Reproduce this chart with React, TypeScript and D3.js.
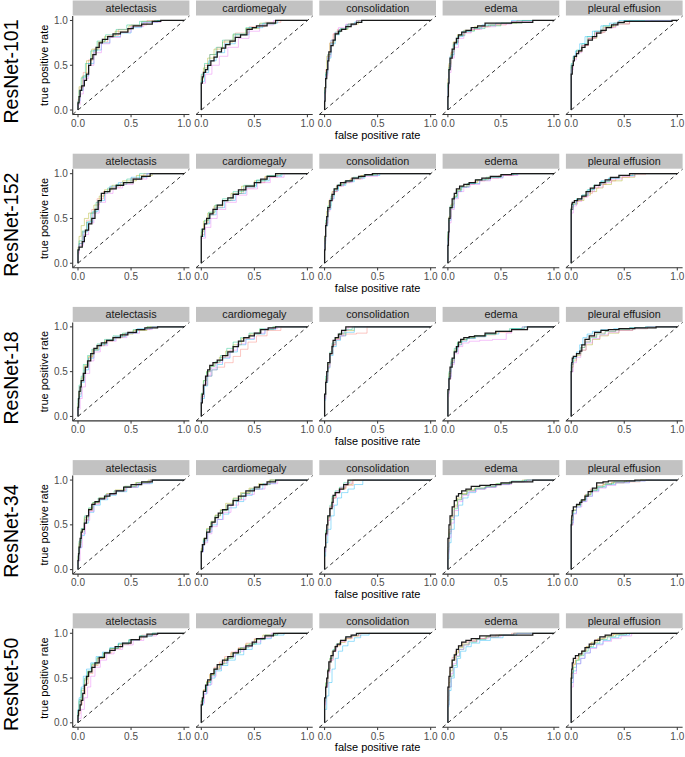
import React from "react";
import * as d3 from "d3";

const MODELS = ["ResNet-101", "ResNet-152", "ResNet-18", "ResNet-34", "ResNet-50"];
const DISEASES = ["atelectasis", "cardiomegaly", "consolidation", "edema", "pleural effusion"];
const TICKS = [0, 0.5, 1];
const TICK_LABELS = ["0.0", "0.5", "1.0"];
const FOLD_COLORS = ["#F8766D", "#A3A500", "#00BF7D", "#00B0F6", "#E76BF3"];
const X_TITLE = "false positive rate";
const Y_TITLE = "true positive rate";

// Mean (black) ROC curves, flat [fpr, tpr, ...] per disease
const MAIN_101: number[][] = [
  [0,0, .01,.08, .02,.15, .035,.22, .06,.27, .08,.33, .1,.4, .12,.5, .14,.57, .17,.62, .2,.7, .23,.75, .28,.79, .33,.82, .4,.85, .47,.87, .52,.91, .6,.94, .7,.96, .78,.99, .84,1, 1,1],
  [0,0, 0,.26, .01,.3, .02,.37, .04,.42, .06,.45, .09,.5, .12,.55, .15,.59, .19,.65, .23,.69, .27,.73, .32,.77, .37,.81, .43,.84, .48,.9, .52,.92, .62,.94, .7,.97, .8,1, 1,1],
  [0,0, .005,.1, .01,.25, .02,.35, .03,.45, .04,.55, .06,.65, .08,.72, .1,.78, .13,.85, .16,.88, .2,.9, .25,.93, .3,.96, .35,.98, .4,1, 1,1],
  [0,0, .005,.15, .01,.3, .02,.45, .04,.58, .06,.68, .08,.75, .1,.8, .13,.84, .17,.87, .22,.89, .28,.92, .35,.94, .4,.97, .6,.97, .8,.98, .84,1, 1,1],
  [0,0, 0,.26, .01,.4, .02,.5, .03,.55, .05,.6, .07,.63, .1,.66, .13,.7, .16,.73, .2,.78, .24,.82, .28,.86, .33,.89, .38,.92, .44,.95, .5,.98, .55,.99, .95,.99, .98,1, 1,1],
];
const MAIN_152: number[][] = [
  [0,0, 0,.1, .01,.15, .04,.18, .06,.24, .07,.3, .1,.37, .13,.44, .16,.5, .19,.6, .22,.7, .25,.78, .3,.8, .36,.83, .43,.87, .52,.9, .6,.94, .68,.97, .74,1, 1,1],
  [0,0, 0,.2, .01,.3, .03,.38, .05,.44, .08,.5, .11,.55, .15,.6, .2,.65, .25,.7, .3,.73, .35,.77, .42,.82, .5,.86, .56,.9, .62,.94, .7,.97, .8,1, 1,1],
  [0,0, .005,.15, .01,.3, .02,.42, .03,.52, .05,.62, .07,.7, .09,.77, .12,.83, .15,.87, .2,.9, .26,.92, .32,.95, .38,.97, .45,.99, .6,1, 1,1],
  [0,0, .005,.2, .01,.35, .02,.5, .04,.62, .06,.72, .08,.78, .11,.83, .15,.86, .2,.88, .26,.9, .32,.93, .4,.95, .5,.97, .6,.99, .72,1, 1,1],
  [0,0, 0,.45, .005,.6, .01,.66, .03,.68, .06,.7, .1,.72, .14,.75, .18,.8, .22,.84, .27,.87, .32,.9, .37,.93, .45,.96, .55,.98, .7,1, 1,1],
];
const MAIN_18: number[][] = [
  [0,0, .005,.1, .01,.2, .02,.28, .03,.33, .05,.4, .07,.48, .09,.55, .12,.62, .15,.7, .18,.76, .22,.79, .27,.82, .33,.85, .4,.88, .47,.91, .55,.94, .63,.97, .75,.99, .82,1, 1,1],
  [0,0, 0,.05, .01,.15, .02,.25, .04,.35, .06,.45, .08,.52, .11,.57, .15,.6, .2,.63, .25,.68, .3,.72, .35,.78, .4,.84, .45,.88, .5,.9, .56,.93, .63,.97, .7,.99, .78,1, 1,1],
  [0,0, 0,.1, .01,.25, .02,.38, .03,.5, .05,.6, .07,.7, .08,.78, .1,.85, .13,.88, .16,.92, .2,.96, .24,1, 1,1],
  [0,0, 0,.1, .01,.3, .02,.42, .04,.55, .06,.65, .08,.72, .1,.78, .12,.83, .15,.86, .2,.88, .25,.89, .35,.9, .45,.93, .6,.95, .75,.97, .8,1, 1,1],
  [0,0, 0,.3, .005,.5, .01,.6, .02,.65, .05,.67, .08,.7, .1,.73, .13,.8, .17,.86, .22,.9, .28,.94, .35,.96, .45,.97, .6,.98, .8,.99, .9,1, 1,1],
];
const MAIN_34: number[][] = [
  [0,0, .005,.1, .01,.18, .02,.25, .03,.35, .04,.42, .06,.45, .08,.52, .1,.6, .13,.67, .16,.73, .2,.76, .25,.79, .3,.82, .36,.85, .43,.88, .5,.92, .6,.95, .7,.98, .8,1, 1,1],
  [0,0, 0,.1, .01,.2, .03,.28, .05,.35, .08,.42, .1,.48, .13,.53, .16,.58, .2,.63, .25,.67, .3,.72, .35,.77, .42,.82, .5,.88, .55,.92, .62,.95, .7,.98, .8,1, 1,1],
  [0,0, 0,.1, .01,.25, .02,.4, .03,.5, .05,.6, .07,.68, .08,.75, .1,.83, .14,.86, .18,.9, .22,.95, .26,1, 1,1],
  [0,0, 0,.15, .01,.35, .02,.5, .04,.6, .06,.7, .08,.77, .1,.82, .13,.85, .17,.88, .22,.9, .3,.93, .4,.94, .5,.95, .6,.97, .8,.98, .85,1, 1,1],
  [0,0, 0,.3, .005,.5, .01,.6, .02,.66, .05,.7, .08,.73, .1,.75, .13,.78, .16,.82, .2,.87, .24,.91, .3,.97, .35,.98, .6,.99, .9,1, 1,1],
];
const MAIN_50: number[][] = [
  [0,0, .005,.08, .02,.14, .03,.2, .045,.25, .06,.33, .08,.42, .1,.52, .13,.57, .16,.62, .2,.67, .25,.73, .3,.78, .35,.81, .42,.85, .5,.89, .58,.93, .65,.96, .75,.99, .82,1, 1,1],
  [0,0, 0,.1, .01,.2, .02,.28, .04,.35, .06,.42, .09,.48, .12,.55, .15,.6, .2,.65, .25,.7, .3,.74, .35,.78, .42,.82, .48,.86, .52,.9, .6,.94, .68,.97, .75,1, 1,1],
  [0,0, 0,.1, .01,.28, .02,.4, .03,.5, .04,.58, .06,.68, .08,.75, .1,.8, .12,.85, .15,.88, .2,.92, .25,.96, .3,.98, .35,1, 1,1],
  [0,0, 0,.2, .01,.4, .02,.52, .04,.62, .06,.7, .08,.76, .1,.82, .13,.86, .17,.9, .22,.92, .3,.94, .4,.97, .5,.98, .8,.98, .85,1, 1,1],
  [0,0, 0,.3, .005,.5, .01,.6, .02,.67, .04,.72, .07,.75, .1,.77, .13,.8, .17,.84, .22,.88, .27,.92, .32,.96, .38,.98, .5,1, 1,1],
];

// Per-fold (coloured) ROC curves: [disease][fold] flat [fpr, tpr, ...]
const FOLDS_101: number[][][] = [
  [
    [0,0, .02,.12, .05,.25, .1,.42, .15,.56, .2,.68, .28,.76, .38,.83, .5,.9, .65,.95, .8,1, 1,1],
    [0,0, .01,.1, .04,.26, .08,.38, .13,.55, .19,.68, .25,.76, .35,.82, .48,.88, .6,.94, .75,.99, .85,1, 1,1],
    [0,0, .01,.08, .03,.22, .07,.36, .12,.52, .18,.66, .26,.77, .36,.84, .46,.9, .58,.95, .72,.99, .8,1, 1,1],
    [0,0, .02,.1, .05,.22, .1,.38, .15,.52, .22,.67, .3,.75, .4,.82, .5,.86, .6,.92, .75,.98, .88,1, 1,1],
    [0,0, .02,.06, .05,.18, .1,.35, .15,.5, .22,.64, .3,.74, .4,.81, .5,.87, .62,.93, .78,.98, .9,1, 1,1],
  ],
  [
    [0,0, 0,.2, .03,.38, .08,.5, .15,.62, .22,.7, .32,.78, .45,.86, .6,.93, .75,.98, .85,1, 1,1],
    [0,0, 0,.22, .02,.35, .06,.47, .12,.58, .2,.68, .3,.76, .42,.84, .55,.91, .7,.97, .82,1, 1,1],
    [0,0, 0,.25, .03,.4, .08,.52, .14,.62, .2,.7, .3,.78, .42,.85, .55,.92, .7,.96, .8,1, 1,1],
    [0,0, 0,.18, .03,.32, .07,.42, .14,.55, .22,.64, .32,.74, .45,.84, .58,.92, .72,.97, .85,1, 1,1],
    [0,0, 0,.2, .04,.3, .1,.4, .17,.5, .25,.6, .35,.7, .45,.8, .55,.88, .68,.95, .8,1, 1,1],
  ],
  [
    [0,0, .01,.2, .03,.45, .05,.62, .08,.75, .12,.85, .2,.9, .3,.95, .42,1, 1,1],
    [0,0, .01,.25, .02,.4, .05,.6, .09,.75, .14,.85, .22,.9, .32,.96, .4,1, 1,1],
    [0,0, .01,.2, .03,.42, .06,.62, .1,.78, .15,.87, .22,.91, .3,.96, .38,1, 1,1],
    [0,0, .01,.22, .03,.4, .06,.58, .1,.74, .14,.84, .2,.9, .28,.95, .35,.98, .45,1, 1,1],
    [0,0, .01,.18, .03,.38, .06,.6, .09,.78, .13,.86, .2,.92, .3,.96, .38,1, 1,1],
  ],
  [
    [0,0, .01,.3, .03,.5, .06,.65, .1,.76, .15,.83, .22,.87, .3,.9, .4,.93, .55,.95, .7,.97, .85,1, 1,1],
    [0,0, .01,.35, .03,.52, .05,.64, .09,.76, .15,.84, .25,.89, .38,.93, .5,.95, .65,.97, .8,1, 1,1],
    [0,0, .01,.28, .03,.48, .06,.62, .1,.75, .16,.83, .25,.88, .35,.91, .5,.94, .7,.97, .82,1, 1,1],
    [0,0, .01,.3, .02,.45, .05,.6, .09,.73, .14,.82, .22,.88, .32,.92, .45,.95, .6,.97, .78,1, 1,1],
    [0,0, .01,.25, .03,.42, .06,.58, .1,.7, .15,.8, .22,.86, .32,.9, .45,.93, .6,.96, .8,.99, .9,1, 1,1],
  ],
  [
    [0,0, 0,.3, .02,.5, .05,.6, .1,.66, .16,.72, .22,.8, .3,.86, .4,.92, .55,.97, .7,1, 1,1],
    [0,0, 0,.25, .02,.48, .05,.58, .1,.65, .16,.72, .24,.8, .32,.87, .42,.93, .55,.96, .75,.99, .85,1, 1,1],
    [0,0, 0,.3, .02,.52, .05,.6, .1,.67, .15,.74, .22,.82, .3,.88, .4,.94, .5,.97, .65,1, 1,1],
    [0,0, 0,.28, .02,.5, .04,.6, .08,.66, .13,.74, .2,.82, .28,.88, .36,.94, .45,.97, .6,1, 1,1],
    [0,0, 0,.22, .02,.45, .05,.56, .1,.64, .16,.72, .23,.8, .32,.87, .42,.92, .55,.96, .7,.99, .8,1, 1,1],
  ],
];
const FOLDS_152: number[][][] = [
  [
    [0,0, .01,.12, .04,.22, .08,.35, .13,.48, .18,.6, .24,.72, .3,.8, .4,.85, .5,.9, .62,.95, .75,1, 1,1],
    [0,0, .01,.18, .03,.3, .06,.42, .1,.5, .15,.56, .2,.65, .25,.75, .32,.82, .42,.87, .55,.92, .7,.98, .8,1, 1,1],
    [0,0, .01,.15, .04,.25, .08,.36, .12,.46, .17,.56, .22,.68, .28,.78, .36,.84, .46,.88, .58,.94, .72,1, 1,1],
    [0,0, .01,.14, .05,.22, .09,.35, .14,.46, .19,.58, .25,.7, .3,.8, .38,.86, .5,.9, .65,.96, .76,1, 1,1],
    [0,0, .01,.1, .05,.2, .1,.32, .15,.45, .2,.56, .26,.68, .33,.78, .42,.84, .52,.88, .65,.94, .8,1, 1,1],
  ],
  [
    [0,0, 0,.18, .03,.32, .07,.45, .12,.54, .2,.62, .3,.7, .4,.78, .5,.84, .6,.9, .72,.96, .85,1, 1,1],
    [0,0, 0,.2, .02,.35, .06,.47, .12,.56, .2,.64, .28,.7, .38,.78, .5,.86, .6,.92, .7,.97, .82,1, 1,1],
    [0,0, 0,.22, .03,.38, .07,.48, .13,.57, .2,.65, .3,.72, .4,.8, .52,.87, .62,.93, .75,.98, .82,1, 1,1],
    [0,0, 0,.15, .03,.3, .08,.44, .14,.54, .22,.62, .32,.7, .42,.78, .52,.85, .64,.92, .76,.97, .88,1, 1,1],
    [0,0, 0,.15, .04,.28, .09,.4, .15,.5, .23,.6, .33,.68, .43,.76, .53,.83, .65,.9, .78,.96, .9,1, 1,1],
  ],
  [
    [0,0, .01,.25, .03,.45, .05,.6, .08,.72, .12,.8, .18,.87, .25,.91, .35,.95, .5,.98, .65,1, 1,1],
    [0,0, .01,.3, .02,.45, .04,.58, .07,.7, .11,.8, .16,.86, .24,.9, .34,.94, .46,.98, .6,1, 1,1],
    [0,0, .01,.28, .03,.48, .06,.64, .09,.75, .13,.83, .19,.88, .27,.92, .37,.96, .5,.99, .62,1, 1,1],
    [0,0, .01,.22, .03,.42, .06,.6, .09,.72, .13,.81, .2,.87, .28,.91, .38,.95, .52,.98, .68,1, 1,1],
    [0,0, .01,.25, .03,.44, .05,.58, .08,.7, .12,.8, .18,.86, .26,.9, .36,.94, .5,.97, .7,1, 1,1],
  ],
  [
    [0,0, .01,.3, .03,.5, .05,.62, .08,.74, .12,.8, .18,.85, .25,.88, .35,.92, .48,.95, .62,.98, .75,1, 1,1],
    [0,0, .01,.32, .03,.52, .06,.66, .09,.75, .13,.82, .2,.86, .28,.9, .38,.93, .5,.96, .65,.99, .75,1, 1,1],
    [0,0, .01,.35, .02,.5, .05,.64, .08,.74, .12,.81, .18,.85, .26,.89, .36,.93, .5,.96, .62,.99, .7,1, 1,1],
    [0,0, .01,.28, .03,.48, .06,.62, .09,.73, .13,.8, .2,.85, .3,.89, .4,.93, .52,.96, .66,.99, .78,1, 1,1],
    [0,0, .01,.25, .03,.45, .06,.6, .1,.72, .15,.8, .21,.85, .3,.88, .4,.92, .52,.95, .66,.98, .8,1, 1,1],
  ],
  [
    [0,0, 0,.4, .02,.62, .05,.67, .1,.7, .15,.74, .2,.78, .26,.84, .33,.88, .42,.92, .55,.96, .7,.99, .8,1, 1,1],
    [0,0, 0,.42, .02,.6, .06,.66, .12,.7, .18,.76, .24,.8, .3,.84, .38,.88, .48,.92, .6,.96, .75,1, 1,1],
    [0,0, 0,.45, .02,.63, .05,.68, .1,.72, .15,.76, .21,.82, .28,.87, .36,.91, .46,.95, .6,.98, .72,1, 1,1],
    [0,0, 0,.4, .02,.6, .05,.66, .1,.71, .16,.76, .22,.82, .28,.87, .35,.92, .45,.95, .58,.98, .7,1, 1,1],
    [0,0, 0,.35, .02,.56, .05,.64, .1,.69, .16,.74, .22,.8, .3,.85, .38,.9, .48,.94, .6,.97, .75,1, 1,1],
  ],
];
const FOLDS_18: number[][][] = [
  [
    [0,0, .01,.12, .03,.25, .06,.4, .1,.55, .14,.66, .19,.75, .26,.8, .34,.85, .44,.89, .55,.93, .68,.97, .8,1, 1,1],
    [0,0, .01,.15, .03,.28, .06,.43, .1,.57, .14,.67, .19,.74, .25,.79, .33,.84, .42,.88, .52,.92, .65,.96, .78,1, 1,1],
    [0,0, .01,.2, .03,.35, .05,.45, .09,.58, .13,.68, .18,.75, .25,.81, .33,.86, .42,.9, .52,.93, .65,.97, .76,1, 1,1],
    [0,0, .01,.1, .03,.22, .06,.38, .1,.52, .15,.65, .2,.74, .27,.8, .35,.85, .45,.89, .56,.93, .7,.98, .82,1, 1,1],
    [0,0, .02,.08, .04,.2, .07,.33, .11,.48, .15,.62, .21,.72, .28,.79, .36,.84, .46,.88, .58,.93, .7,.97, .84,1, 1,1],
  ],
  [
    [0,0, 0,.05, .03,.22, .06,.35, .1,.45, .15,.52, .22,.55, .3,.6, .37,.67, .44,.75, .52,.83, .62,.9, .75,.96, .88,1, 1,1],
    [0,0, 0,.05, .02,.25, .05,.4, .08,.5, .12,.56, .17,.6, .23,.66, .3,.73, .38,.8, .46,.87, .55,.92, .68,.97, .8,1, 1,1],
    [0,0, 0,.06, .02,.26, .05,.4, .09,.5, .13,.56, .18,.61, .24,.68, .3,.76, .37,.83, .45,.88, .55,.93, .67,.98, .76,1, 1,1],
    [0,0, 0,.04, .03,.2, .06,.34, .1,.45, .15,.52, .2,.58, .27,.65, .34,.72, .42,.8, .5,.86, .6,.92, .7,.97, .82,1, 1,1],
    [0,0, 0,.05, .02,.22, .05,.36, .09,.46, .14,.54, .2,.6, .27,.66, .34,.74, .42,.81, .5,.87, .6,.93, .72,.98, .82,1, 1,1],
  ],
  [
    [0,0, .01,.2, .03,.4, .05,.55, .08,.7, .11,.8, .15,.86, .2,.9, .3,.92, .4,.93, .45,1, 1,1],
    [0,0, .01,.22, .03,.42, .05,.58, .07,.7, .1,.8, .14,.87, .2,.92, .28,.96, .34,1, 1,1],
    [0,0, .01,.25, .03,.45, .05,.6, .07,.72, .1,.82, .14,.88, .19,.93, .26,.97, .32,1, 1,1],
    [0,0, .01,.18, .03,.38, .05,.54, .08,.68, .11,.78, .15,.85, .2,.9, .28,.94, .36,1, 1,1],
    [0,0, .01,.2, .03,.4, .05,.56, .07,.7, .1,.8, .14,.86, .18,.9, .22,.96, .3,1, 1,1],
  ],
  [
    [0,0, .01,.25, .03,.45, .06,.6, .09,.72, .13,.8, .18,.85, .25,.87, .35,.89, .45,.91, .6,.94, .75,.97, .85,1, 1,1],
    [0,0, .01,.28, .03,.48, .06,.62, .09,.74, .13,.82, .18,.86, .26,.88, .36,.9, .46,.92, .6,.95, .72,.98, .82,1, 1,1],
    [0,0, .01,.3, .03,.5, .06,.64, .09,.76, .13,.83, .18,.86, .25,.88, .35,.9, .45,.92, .58,.95, .7,.98, .8,1, 1,1],
    [0,0, .01,.26, .03,.44, .06,.6, .09,.72, .13,.8, .18,.84, .26,.87, .36,.89, .48,.92, .6,.95, .72,.98, .82,1, 1,1],
    [0,0, .01,.22, .03,.42, .06,.58, .1,.7, .14,.78, .2,.82, .3,.84, .42,.85, .55,.86, .6,.93, .7,.97, .82,1, 1,1],
  ],
  [
    [0,0, 0,.35, .02,.58, .05,.64, .09,.7, .13,.77, .18,.84, .24,.89, .32,.93, .42,.95, .55,.97, .7,.99, .85,1, 1,1],
    [0,0, 0,.3, .02,.55, .05,.62, .09,.68, .14,.74, .2,.8, .27,.86, .35,.9, .45,.93, .58,.96, .72,.98, .85,1, 1,1],
    [0,0, 0,.35, .02,.58, .05,.65, .09,.7, .13,.77, .18,.83, .24,.88, .32,.92, .42,.95, .55,.97, .7,.99, .82,1, 1,1],
    [0,0, 0,.4, .02,.6, .05,.66, .08,.72, .11,.8, .15,.88, .2,.92, .28,.95, .4,.97, .55,.98, .7,.99, .8,1, 1,1],
    [0,0, 0,.3, .02,.5, .05,.6, .09,.66, .14,.74, .2,.82, .27,.87, .35,.91, .45,.94, .58,.96, .72,.98, .85,1, 1,1],
  ],
];
const FOLDS_34: number[][][] = [
  [
    [0,0, .01,.12, .03,.28, .06,.42, .1,.56, .14,.66, .2,.74, .27,.8, .35,.84, .45,.88, .55,.92, .68,.97, .8,1, 1,1],
    [0,0, .01,.15, .03,.3, .06,.44, .1,.58, .14,.68, .2,.75, .27,.8, .35,.85, .44,.89, .54,.93, .66,.97, .78,1, 1,1],
    [0,0, .01,.16, .03,.32, .06,.46, .1,.6, .14,.69, .19,.75, .26,.8, .34,.84, .44,.88, .55,.93, .68,.97, .8,1, 1,1],
    [0,0, .01,.1, .03,.24, .06,.38, .1,.52, .15,.64, .21,.72, .28,.78, .36,.83, .46,.87, .57,.92, .7,.96, .82,1, 1,1],
    [0,0, .02,.1, .04,.25, .07,.4, .11,.55, .15,.65, .2,.73, .27,.79, .35,.84, .45,.88, .56,.92, .68,.96, .82,1, 1,1],
  ],
  [
    [0,0, 0,.1, .02,.22, .05,.33, .09,.44, .13,.52, .18,.6, .24,.66, .3,.72, .38,.78, .46,.85, .55,.9, .65,.95, .78,1, 1,1],
    [0,0, 0,.12, .02,.24, .05,.35, .09,.46, .13,.54, .18,.61, .23,.67, .3,.74, .37,.8, .45,.86, .54,.91, .64,.96, .75,1, 1,1],
    [0,0, 0,.1, .02,.22, .05,.34, .09,.45, .13,.53, .18,.6, .24,.66, .3,.72, .38,.79, .46,.85, .55,.9, .65,.95, .78,1, 1,1],
    [0,0, 0,.08, .02,.2, .06,.32, .1,.42, .15,.5, .2,.56, .26,.62, .33,.69, .4,.76, .48,.83, .58,.9, .7,.96, .82,1, 1,1],
    [0,0, 0,.1, .02,.2, .06,.3, .1,.4, .15,.48, .21,.56, .28,.64, .35,.72, .42,.78, .5,.84, .6,.9, .72,.96, .85,1, 1,1],
  ],
  [
    [0,0, .01,.2, .03,.4, .05,.55, .08,.7, .11,.8, .15,.86, .2,.9, .27,.94, .33,1, 1,1],
    [0,0, .01,.22, .03,.42, .05,.58, .07,.7, .1,.8, .14,.86, .2,.91, .26,.95, .32,1, 1,1],
    [0,0, .01,.24, .03,.44, .05,.6, .07,.72, .1,.82, .14,.88, .18,.92, .24,.97, .3,1, 1,1],
    [0,0, .01,.15, .03,.3, .06,.45, .09,.6, .12,.72, .16,.8, .22,.86, .28,.9, .36,.95, .45,1, 1,1],
    [0,0, .01,.2, .03,.38, .05,.55, .08,.7, .11,.8, .15,.87, .2,.92, .26,.96, .32,1, 1,1],
  ],
  [
    [0,0, .01,.2, .03,.42, .06,.58, .09,.7, .13,.78, .18,.84, .25,.88, .35,.9, .45,.92, .58,.95, .72,.98, .82,1, 1,1],
    [0,0, .01,.25, .03,.45, .06,.6, .09,.72, .13,.8, .18,.85, .25,.89, .35,.91, .45,.93, .58,.96, .7,.98, .8,1, 1,1],
    [0,0, .01,.22, .03,.4, .06,.56, .09,.68, .13,.78, .18,.84, .26,.88, .36,.91, .46,.93, .6,.96, .74,.99, .84,1, 1,1],
    [0,0, .01,.12, .03,.3, .06,.45, .1,.6, .14,.72, .19,.8, .26,.86, .35,.9, .45,.92, .58,.95, .72,.98, .85,1, 1,1],
    [0,0, .01,.18, .03,.36, .06,.52, .1,.66, .14,.76, .2,.83, .27,.87, .36,.9, .46,.92, .6,.95, .75,.98, .88,1, 1,1],
  ],
  [
    [0,0, 0,.3, .02,.55, .05,.66, .09,.72, .13,.78, .18,.84, .24,.9, .3,.94, .38,.96, .5,.97, .65,.98, .8,1, 1,1],
    [0,0, 0,.35, .02,.58, .05,.67, .09,.72, .13,.77, .18,.83, .24,.88, .3,.92, .38,.95, .5,.97, .65,.99, .78,1, 1,1],
    [0,0, 0,.32, .02,.56, .05,.66, .09,.72, .14,.78, .19,.84, .25,.89, .32,.93, .4,.96, .52,.98, .65,.99, .76,1, 1,1],
    [0,0, 0,.3, .02,.52, .05,.63, .09,.7, .14,.76, .2,.82, .26,.88, .33,.92, .42,.95, .55,.97, .7,.99, .82,1, 1,1],
    [0,0, 0,.28, .02,.5, .05,.62, .1,.7, .15,.76, .2,.82, .26,.87, .33,.91, .42,.94, .55,.97, .7,.99, .84,1, 1,1],
  ],
];
const FOLDS_50: number[][][] = [
  [
    [0,0, .02,.1, .04,.2, .07,.32, .1,.44, .14,.55, .19,.64, .25,.72, .32,.78, .4,.83, .5,.88, .6,.93, .72,.98, .82,1, 1,1],
    [0,0, .01,.12, .03,.24, .06,.36, .09,.48, .13,.57, .18,.65, .24,.72, .3,.78, .38,.83, .48,.88, .58,.93, .7,.97, .8,1, 1,1],
    [0,0, .01,.14, .03,.26, .06,.38, .09,.5, .13,.58, .18,.66, .24,.73, .3,.78, .38,.83, .48,.88, .58,.92, .7,.97, .8,1, 1,1],
    [0,0, .01,.15, .03,.28, .05,.4, .08,.52, .12,.6, .17,.67, .23,.74, .3,.79, .38,.84, .48,.89, .58,.93, .7,.97, .82,1, 1,1],
    [0,0, .03,.05, .06,.15, .09,.28, .12,.4, .16,.52, .21,.62, .27,.7, .34,.77, .42,.82, .52,.87, .62,.92, .74,.97, .86,1, 1,1],
  ],
  [
    [0,0, 0,.1, .02,.24, .05,.36, .08,.46, .12,.54, .17,.62, .22,.68, .28,.74, .35,.79, .42,.84, .5,.89, .6,.94, .72,.98, .82,1, 1,1],
    [0,0, 0,.12, .02,.25, .05,.37, .08,.46, .12,.54, .17,.6, .22,.66, .28,.72, .35,.78, .42,.83, .5,.88, .58,.93, .7,.98, .8,1, 1,1],
    [0,0, 0,.12, .02,.24, .05,.35, .09,.45, .13,.53, .18,.6, .24,.66, .3,.72, .37,.78, .45,.84, .52,.88, .6,.93, .72,.98, .8,1, 1,1],
    [0,0, 0,.08, .02,.2, .05,.32, .09,.42, .13,.5, .19,.58, .25,.64, .32,.7, .4,.76, .48,.82, .56,.88, .66,.94, .78,.98, .88,1, 1,1],
    [0,0, 0,.1, .03,.22, .06,.33, .1,.43, .14,.52, .19,.6, .25,.67, .32,.74, .4,.8, .48,.85, .56,.9, .66,.95, .78,1, 1,1],
  ],
  [
    [0,0, .01,.22, .03,.42, .05,.58, .08,.7, .11,.8, .15,.86, .2,.9, .26,.94, .34,.97, .42,1, 1,1],
    [0,0, .01,.25, .03,.45, .05,.6, .07,.72, .1,.8, .14,.86, .19,.9, .25,.94, .32,.97, .4,1, 1,1],
    [0,0, .01,.24, .03,.44, .05,.6, .08,.72, .11,.82, .15,.88, .2,.92, .26,.96, .32,.98, .38,1, 1,1],
    [0,0, .02,.15, .04,.3, .07,.45, .1,.6, .13,.72, .17,.8, .22,.86, .28,.91, .34,.95, .42,.98, .5,1, 1,1],
    [0,0, .01,.2, .03,.4, .05,.56, .08,.7, .11,.8, .15,.87, .2,.91, .26,.95, .33,.98, .4,1, 1,1],
  ],
  [
    [0,0, .01,.3, .02,.5, .04,.62, .07,.73, .1,.8, .14,.86, .19,.9, .26,.92, .35,.94, .45,.96, .6,.98, .75,1, 1,1],
    [0,0, .01,.25, .02,.45, .04,.58, .07,.7, .1,.78, .14,.84, .2,.88, .27,.91, .36,.94, .48,.96, .62,.98, .78,1, 1,1],
    [0,0, .01,.2, .03,.4, .05,.52, .08,.64, .11,.74, .15,.82, .2,.87, .27,.9, .36,.93, .48,.96, .62,.98, .8,1, 1,1],
    [0,0, .01,.18, .03,.36, .06,.5, .09,.62, .12,.72, .17,.8, .22,.85, .3,.89, .4,.92, .52,.95, .65,.98, .8,1, 1,1],
    [0,0, .01,.2, .03,.4, .05,.55, .08,.66, .11,.75, .15,.82, .2,.87, .28,.91, .38,.94, .5,.96, .62,.98, .78,1, 1,1],
  ],
  [
    [0,0, 0,.3, .02,.55, .04,.66, .07,.72, .1,.76, .14,.8, .18,.85, .23,.89, .3,.93, .38,.96, .48,.99, .6,1, 1,1],
    [0,0, 0,.32, .02,.56, .04,.65, .07,.7, .1,.75, .14,.8, .19,.85, .25,.9, .32,.94, .4,.97, .5,.99, .62,1, 1,1],
    [0,0, 0,.28, .02,.5, .05,.62, .08,.7, .12,.75, .16,.8, .21,.85, .27,.89, .34,.93, .42,.96, .52,.98, .65,1, 1,1],
    [0,0, 0,.25, .02,.45, .05,.58, .09,.66, .13,.72, .18,.78, .24,.84, .3,.88, .37,.92, .45,.95, .55,.98, .7,1, 1,1],
    [0,0, 0,.2, .02,.4, .05,.55, .09,.66, .13,.72, .18,.78, .24,.83, .3,.87, .38,.91, .47,.94, .57,.97, .72,1, 1,1],
  ],
];

const MAIN_BY_MODEL = [MAIN_101, MAIN_152, MAIN_18, MAIN_34, MAIN_50];
const FOLDS_BY_MODEL = [FOLDS_101, FOLDS_152, FOLDS_18, FOLDS_34, FOLDS_50];

const W = 685;
const H = 757;
const ROW_PITCH = 153.2;
const ROW_TOP0 = 0.5;
const STRIP_H = 15;
const PANEL_TOP = 15.5;
const PANEL_BOTTOM = 114;
const COL_LEFT0 = 72.7;
const COL_PITCH = 123.3;
const PANEL_W = 116.7;
const TICK_LEN = 2.75;
const FONT = "'Liberation Sans', Arial, Helvetica, sans-serif";

function toPairs(flat: number[]): [number, number][] {
  const out: [number, number][] = [];
  for (let i = 0; i + 1 < flat.length; i += 2) out.push([flat[i], flat[i + 1]]);
  return out;
}

export default function App() {
  const rows = MODELS.map((model, r) => {
    const top = ROW_TOP0 + r * ROW_PITCH;
    const y = d3.scaleLinear().domain([-0.05, 1.05]).range([top + PANEL_BOTTOM, top + PANEL_TOP]);
    const panels = DISEASES.map((dis, c) => {
      const left = COL_LEFT0 + c * COL_PITCH;
      const x = d3.scaleLinear().domain([-0.05, 1.05]).range([left, left + PANEL_W]);
      const line = d3
        .line<[number, number]>()
        .x((d) => x(d[0]))
        .y((d) => y(d[1]))
        .curve(d3.curveStepBefore);
      const folds = FOLDS_BY_MODEL[r][c];
      const main = MAIN_BY_MODEL[r][c];
      return (
        <g key={dis}>
          <rect x={left} y={top} width={PANEL_W} height={STRIP_H} fill="#C2C2C2" />
          <text
            x={left + PANEL_W / 2}
            y={top + STRIP_H / 2 + 3.9}
            textAnchor="middle"
            fontSize={10.8}
            fill="#1A1A1A"
          >
            {dis}
          </text>
          {folds.map((f, i) => (
            <path
              key={i}
              d={line(toPairs(f)) || ""}
              fill="none"
              stroke={FOLD_COLORS[i]}
              strokeOpacity={0.45}
              strokeWidth={0.9}
            />
          ))}
          <line
            x1={x(-0.05)}
            y1={y(-0.05)}
            x2={x(1.05)}
            y2={y(1.05)}
            stroke="#333"
            strokeWidth={1}
            strokeDasharray="3.8,3.4"
          />
          <path d={line(toPairs(main)) || ""} fill="none" stroke="#1a1a1a" strokeWidth={1.25} />
          <line x1={left} x2={left + PANEL_W} y1={top + PANEL_BOTTOM} y2={top + PANEL_BOTTOM} stroke="#333" strokeWidth={1.1} />
          {TICKS.map((t, k) => (
            <g key={k}>
              <line x1={x(t)} x2={x(t)} y1={top + PANEL_BOTTOM} y2={top + PANEL_BOTTOM + TICK_LEN} stroke="#333" strokeWidth={1} />
              <text x={x(t)} y={top + PANEL_BOTTOM + TICK_LEN + 9.5} textAnchor="middle" fontSize={10} fill="#4D4D4D">
                {TICK_LABELS[k]}
              </text>
            </g>
          ))}
          {c === 0 && (
            <g>
              <line x1={left} x2={left} y1={top + PANEL_TOP} y2={top + PANEL_BOTTOM} stroke="#333" strokeWidth={1.1} />
              {TICKS.map((t, k) => (
                <g key={k}>
                  <line x1={left - TICK_LEN} x2={left} y1={y(t)} y2={y(t)} stroke="#333" strokeWidth={1} />
                  <text x={left - TICK_LEN - 2} y={y(t) + 3.5} textAnchor="end" fontSize={10} fill="#4D4D4D">
                    {TICK_LABELS[k]}
                  </text>
                </g>
              ))}
            </g>
          )}
        </g>
      );
    });
    const panelsMid = COL_LEFT0 + (4 * COL_PITCH + PANEL_W) / 2;
    return (
      <g key={model}>
        {panels}
        <text x={panelsMid} y={top + 138} textAnchor="middle" fontSize={11} fill="#000">
          {X_TITLE}
        </text>
        <text
          transform={`translate(47.5, ${top + (PANEL_TOP + PANEL_BOTTOM) / 2}) rotate(-90)`}
          textAnchor="middle"
          fontSize={11}
          fill="#000"
        >
          {Y_TITLE}
        </text>
        <text
          transform={`translate(17.5, ${top + 71}) rotate(-90)`}
          textAnchor="middle"
          fontSize={19.5}
          fill="#000"
        >
          {model}
        </text>
      </g>
    );
  });

  return (
    <svg
      width={W}
      height={H}
      viewBox={`0 0 ${W} ${H}`}
      style={{ position: "absolute", left: 0, top: 0, background: "#fff" }}
      fontFamily={FONT}
    >
      <rect width={W} height={H} fill="#fff" />
      {rows}
    </svg>
  );
}
